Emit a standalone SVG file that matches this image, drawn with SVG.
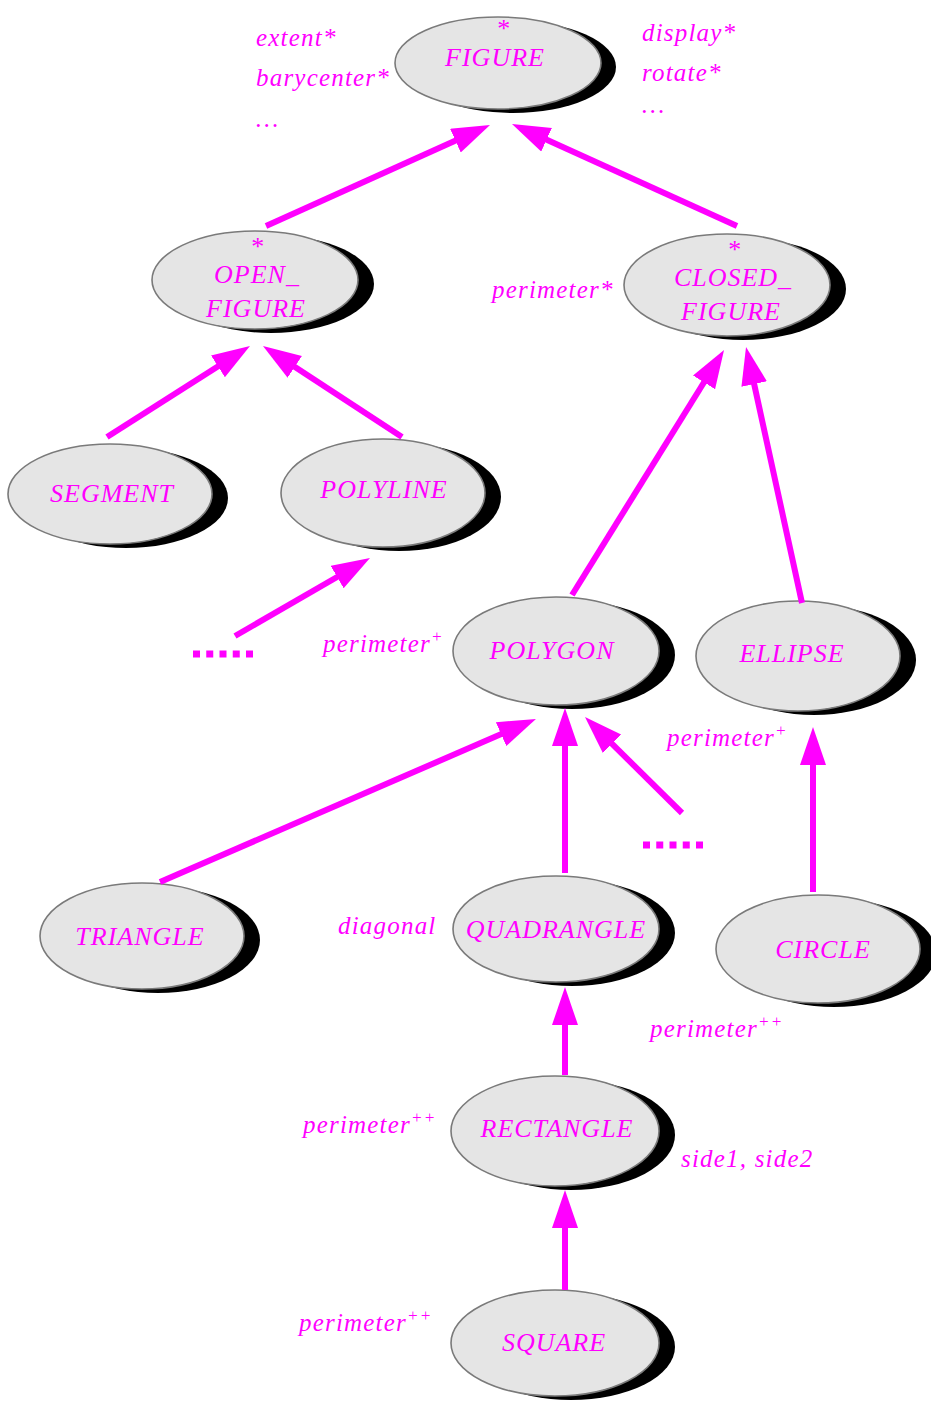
<svg xmlns="http://www.w3.org/2000/svg" width="931" height="1404" viewBox="0 0 931 1404">
<style>
.bg{fill:#fff}
.sh{fill:#000}
.el{fill:#e5e5e5;stroke:#7a7a7a;stroke-width:1.6}
.nt{font-family:"Liberation Serif",serif;font-style:italic;font-size:26px;letter-spacing:1px;fill:#ff00ff;text-anchor:middle}
.lb{font-family:"Liberation Serif",serif;font-style:italic;font-size:25px;letter-spacing:1.2px;fill:#ff00ff}
.sup{font-size:17px}
.ar{stroke:#ff00ff;stroke-width:6;fill:none;marker-end:url(#ah)}
.dots{stroke:#ff00ff;stroke-width:7;stroke-dasharray:7 6.25;fill:none}
</style>
<defs>
<marker id="ah" markerUnits="userSpaceOnUse" markerWidth="40" markerHeight="28" refX="18" refY="13" orient="auto">
<path d="M0,0 L38,13 L0,26 z" fill="#ff00ff"/>
</marker>
</defs>
<rect class="bg" x="0" y="0" width="931" height="1404"/>

<g id="FIGURE">
<ellipse class="sh" cx="513" cy="67" rx="103" ry="46"/>
<ellipse class="el" cx="498" cy="63" rx="103" ry="46"/>
<text class="nt" x="503" y="37">*</text>
<text class="nt" x="495" y="66">FIGURE</text>
</g>
<g id="OPEN_FIGURE">
<ellipse class="sh" cx="271" cy="284" rx="103" ry="49"/>
<ellipse class="el" cx="255" cy="280" rx="103" ry="49"/>
<text class="nt" x="257" y="255">*</text>
<text class="nt" x="257" y="283">OPEN_</text>
<text class="nt" x="256" y="317">FIGURE</text>
</g>
<g id="CLOSED_FIGURE">
<ellipse class="sh" cx="743" cy="289" rx="103" ry="51"/>
<ellipse class="el" cx="727" cy="285" rx="103" ry="51"/>
<text class="nt" x="734" y="258">*</text>
<text class="nt" x="733" y="286">CLOSED_</text>
<text class="nt" x="731" y="320">FIGURE</text>
</g>
<g id="SEGMENT">
<ellipse class="sh" cx="126" cy="498" rx="102" ry="50"/>
<ellipse class="el" cx="110" cy="494" rx="102" ry="50"/>
<text class="nt" x="112" y="502">SEGMENT</text>
</g>
<g id="POLYLINE">
<ellipse class="sh" cx="399" cy="497" rx="102" ry="54"/>
<ellipse class="el" cx="383" cy="493" rx="102" ry="54"/>
<text class="nt" x="384" y="498">POLYLINE</text>
</g>
<g id="POLYGON">
<ellipse class="sh" cx="572" cy="655" rx="103" ry="54"/>
<ellipse class="el" cx="556" cy="651" rx="103" ry="54"/>
<text class="nt" x="552" y="659">POLYGON</text>
</g>
<g id="ELLIPSE">
<ellipse class="sh" cx="814" cy="660" rx="102" ry="55"/>
<ellipse class="el" cx="798" cy="656" rx="102" ry="55"/>
<text class="nt" x="792" y="662">ELLIPSE</text>
</g>
<g id="TRIANGLE">
<ellipse class="sh" cx="158" cy="940" rx="102" ry="53"/>
<ellipse class="el" cx="142" cy="936" rx="102" ry="53"/>
<text class="nt" x="140" y="945">TRIANGLE</text>
</g>
<g id="QUADRANGLE">
<ellipse class="sh" cx="572" cy="933" rx="103" ry="53"/>
<ellipse class="el" cx="556" cy="929" rx="103" ry="53"/>
<text class="nt" x="556" y="938">QUADRANGLE</text>
</g>
<g id="CIRCLE">
<ellipse class="sh" cx="834" cy="953" rx="102" ry="54"/>
<ellipse class="el" cx="818" cy="949" rx="102" ry="54"/>
<text class="nt" x="823" y="958">CIRCLE</text>
</g>
<g id="RECTANGLE">
<ellipse class="sh" cx="571" cy="1135" rx="104" ry="55"/>
<ellipse class="el" cx="555" cy="1131" rx="104" ry="55"/>
<text class="nt" x="557" y="1137">RECTANGLE</text>
</g>
<g id="SQUARE">
<ellipse class="sh" cx="571" cy="1347" rx="104" ry="53"/>
<ellipse class="el" cx="555" cy="1343" rx="104" ry="53"/>
<text class="nt" x="554" y="1351">SQUARE</text>
</g>

<g id="connectors">
<line class="ar" x1="266" y1="226" x2="471.8" y2="133.2"/>
<line class="ar" x1="737" y1="226" x2="530.2" y2="132.3"/>
<line class="ar" x1="107" y1="437" x2="233.1" y2="356.7"/>
<line class="ar" x1="402" y1="437" x2="279.7" y2="357"/>
<line class="ar" x1="235" y1="636" x2="352.7" y2="568"/>
<line class="ar" x1="572" y1="595" x2="713.5" y2="367"/>
<line class="ar" x1="802" y1="603" x2="750.3" y2="366.5"/>
<line class="ar" x1="160" y1="882" x2="517.6" y2="727"/>
<line class="ar" x1="565" y1="873" x2="565" y2="728"/>
<line class="ar" x1="682" y1="813" x2="599.2" y2="731.1"/>
<line class="ar" x1="813" y1="892" x2="813" y2="747"/>
<line class="ar" x1="565" y1="1075" x2="565" y2="1007"/>
<line class="ar" x1="565" y1="1290" x2="565" y2="1210"/>
<line class="dots" x1="193" y1="654" x2="253" y2="654"/>
<line class="dots" x1="643" y1="845" x2="704" y2="845"/>
</g>

<g id="labels">
<text class="lb" x="256" y="46">extent*</text>
<text class="lb" x="256" y="86">barycenter*</text>
<text class="lb" x="256" y="127">…</text>
<text class="lb" x="642" y="41">display*</text>
<text class="lb" x="642" y="81">rotate*</text>
<text class="lb" x="642" y="113">…</text>
<text class="lb" x="492" y="298">perimeter*</text>
<text class="lb" x="323" y="652">perimeter<tspan class="sup" dy="-10">+</tspan></text>
<text class="lb" x="667" y="746">perimeter<tspan class="sup" dy="-10">+</tspan></text>
<text class="lb" x="338" y="934">diagonal</text>
<text class="lb" x="650" y="1037">perimeter<tspan class="sup" dy="-10">++</tspan></text>
<text class="lb" x="303" y="1133">perimeter<tspan class="sup" dy="-10">++</tspan></text>
<text class="lb" x="681" y="1167">side1, side2</text>
<text class="lb" x="299" y="1331">perimeter<tspan class="sup" dy="-10">++</tspan></text>
</g>
</svg>
